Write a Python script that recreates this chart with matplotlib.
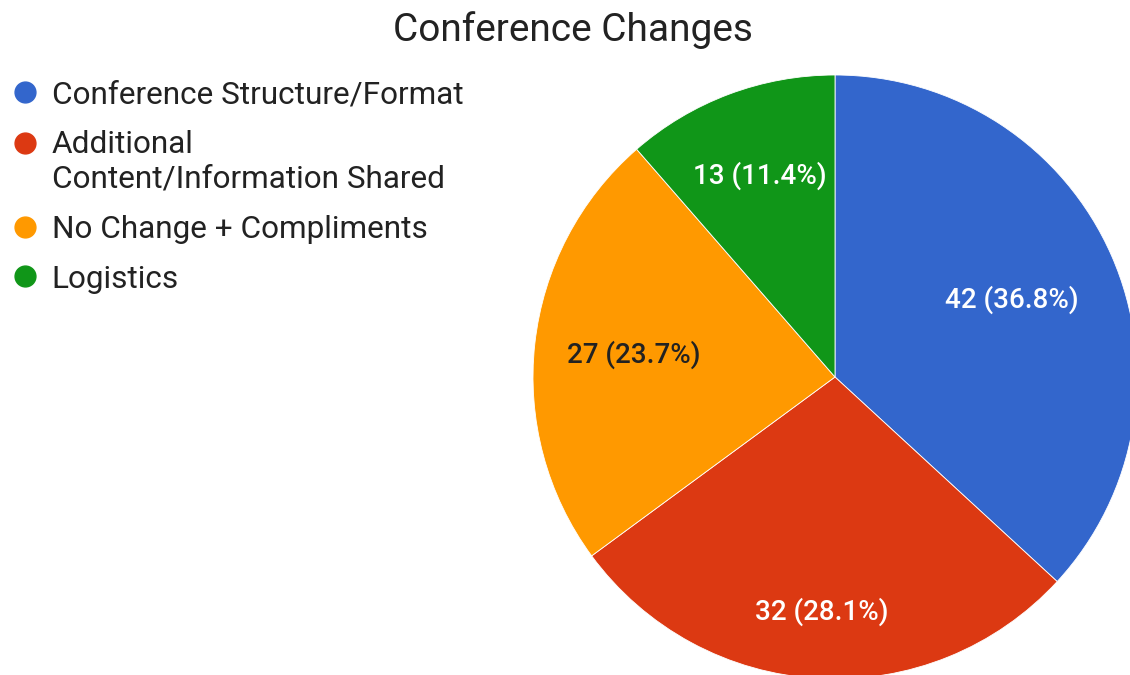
import numpy as np
import matplotlib.pyplot as plt
from matplotlib.lines import Line2D
from matplotlib.legend_handler import HandlerLine2D

plt.rcParams['font.family'] = ['Roboto', 'DejaVu Sans']

# data
categories = ['Conference Structure/Format',
              'Additional\nContent/Information Shared',
              'No Change + Compliments',
              'Logistics']
counts = [42, 32, 27, 13]
colors = ['#3366CC', '#DC3912', '#FF9900', '#109618']
label_colors = ['white', 'white', '#222222', 'white']
# how far out (fraction of radius) each slice label sits
label_radius = [0.64, 0.78, 0.67, 0.71]

total = sum(counts)


# legend marker that sits next to the first line of a two-line label
class FirstLineHandler(HandlerLine2D):
    def __init__(self, dy, **kw):
        super().__init__(**kw)
        self.dy = dy

    def create_artists(self, legend, orig_handle, xdescent, ydescent,
                       width, height, fontsize, trans):
        artists = super().create_artists(legend, orig_handle, xdescent,
                                         ydescent, width, height, fontsize,
                                         trans)
        for a in artists:
            a.set_ydata(np.asarray(a.get_ydata()) + self.dy)
        return artists


fig = plt.figure(figsize=(11.3, 6.75), dpi=100)

# pie centred at ~(835, 377) px, radius ~302 px
W, H = 1130, 675
cx, cy, r = 835, 377, 302
ax = fig.add_axes([(cx - r) / W, (H - cy - r) / H, 2 * r / W, 2 * r / H])

wedges, texts, autotexts = ax.pie(
    counts, colors=colors, startangle=90, counterclock=False,
    autopct=lambda p: f'{round(p * total / 100)} ({p:.1f}%)',
    pctdistance=0.64, radius=1,
    wedgeprops=dict(edgecolor='white', linewidth=0.6),
    textprops=dict(fontsize=20, weight='medium'))
for w, t, c, lr in zip(wedges, autotexts, label_colors, label_radius):
    ang = np.deg2rad((w.theta1 + w.theta2) / 2)
    t.set_position((lr * np.cos(ang), lr * np.sin(ang)))
    t.set_color(c)
ax.set_xlim(-1, 1)
ax.set_ylim(-1, 1)
ax.set_aspect('equal')
ax.axis('off')

fig.text(0.507, 1 - 30 / H, 'Conference Changes', ha='center', va='center',
         fontsize=28, color='#222222')

fs = 22.7
handles = [Line2D([], [], marker='o', linestyle='none', markersize=15,
                  markerfacecolor=c, markeredgecolor=c) for c in colors]
hmap = {h: FirstLineHandler(0.5 * 1.25 * fs) for h, lab in zip(handles, categories)
        if '\n' in lab}
leg = fig.legend(handles, categories, loc='upper left',
                 bbox_to_anchor=(0.004, 0.895), handler_map=hmap,
                 frameon=False, fontsize=fs, handlelength=0.7,
                 handletextpad=0.5, labelspacing=0.66, borderaxespad=0,
                 borderpad=0.3, labelcolor='#222222')
for t in leg.get_texts():
    t.set_linespacing(1.25)

fig.savefig('out.png', dpi=100)
